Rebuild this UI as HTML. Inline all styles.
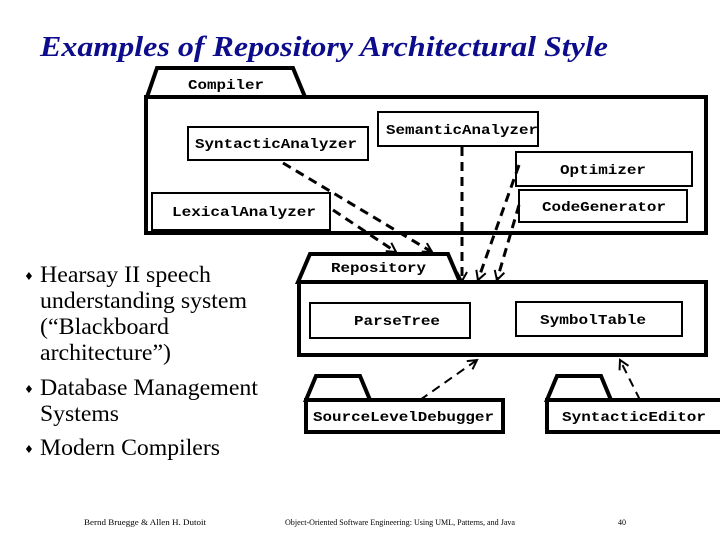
<!DOCTYPE html>
<html><head><meta charset="utf-8"><style>
html,body{margin:0;padding:0;background:#fff;}
svg{display:block;}
.m{font-family:"Liberation Mono",monospace;font-weight:bold;font-size:14px;fill:#000;}
.s{font-family:"Liberation Serif",serif;font-size:23.5px;fill:#000;}
.f{font-family:"Liberation Serif",serif;font-size:8px;fill:#000;}
</style></head><body>
<svg width="720" height="540" viewBox="0 0 720 540" xmlns="http://www.w3.org/2000/svg">
<defs>
<marker id="a" markerWidth="12" markerHeight="12" refX="10" refY="6" orient="auto" markerUnits="userSpaceOnUse">
<path d="M1,1 L10,6 L1,11" fill="none" stroke="#000" stroke-width="2"/>
</marker>
</defs>
<text x="40" y="56" font-family="Liberation Serif,serif" font-style="italic" font-weight="bold" font-size="28" fill="#0c0c8c" textLength="568" lengthAdjust="spacingAndGlyphs">Examples of Repository Architectural Style</text>

<g fill="#fff" stroke="#000" stroke-width="4">
<polygon points="147,97 157,68 293,68 305,97"/>
<rect x="146" y="97" width="560" height="136"/>
<polygon points="298,282 310,254 448,254 460,282"/>
<rect x="299" y="282" width="407" height="73"/>
<polygon points="306,400 316,376 360,376 370,400"/>
<rect x="306" y="400" width="197" height="32"/>
<polygon points="547,400 557,376 601,376 611,400"/>
<rect x="547" y="400" width="180" height="32"/>
</g>
<g fill="#fff" stroke="#000" stroke-width="2">
<rect x="188" y="127" width="180" height="33"/>
<rect x="378" y="112" width="160" height="34"/>
<rect x="516" y="152" width="176" height="34"/>
<rect x="519" y="190" width="168" height="32"/>
<rect x="152" y="193" width="178" height="37"/>
<rect x="310" y="303" width="160" height="35"/>
<rect x="516" y="302" width="166" height="34"/>
</g>
<text class="m" x="188" y="89" textLength="76" lengthAdjust="spacingAndGlyphs">Compiler</text>
<text class="m" x="195" y="148" textLength="162" lengthAdjust="spacingAndGlyphs">SyntacticAnalyzer</text>
<text class="m" x="386" y="134" textLength="152" lengthAdjust="spacingAndGlyphs">SemanticAnalyzer</text>
<text class="m" x="560" y="174" textLength="86" lengthAdjust="spacingAndGlyphs">Optimizer</text>
<text class="m" x="542" y="211" textLength="124" lengthAdjust="spacingAndGlyphs">CodeGenerator</text>
<text class="m" x="172" y="216" textLength="144" lengthAdjust="spacingAndGlyphs">LexicalAnalyzer</text>
<text class="m" x="331" y="272" textLength="95" lengthAdjust="spacingAndGlyphs">Repository</text>
<text class="m" x="354" y="325" textLength="86" lengthAdjust="spacingAndGlyphs">ParseTree</text>
<text class="m" x="540" y="324" textLength="106" lengthAdjust="spacingAndGlyphs">SymbolTable</text>
<text class="m" x="313" y="421" textLength="181" lengthAdjust="spacingAndGlyphs">SourceLevelDebugger</text>
<text class="m" x="562" y="421" textLength="144" lengthAdjust="spacingAndGlyphs">SyntacticEditor</text>

<g stroke="#000" stroke-width="3" stroke-dasharray="9,6" fill="none" marker-end="url(#a)">
<line x1="283" y1="163" x2="432" y2="252"/>
<line x1="333" y1="210" x2="396" y2="252"/>
<line x1="462" y1="147" x2="462" y2="281"/>
<line x1="519" y1="165" x2="478" y2="280"/>
<line x1="519" y1="205" x2="497" y2="280"/>
</g>
<g stroke="#000" stroke-width="2" stroke-dasharray="9,6" fill="none" marker-end="url(#a)">
<line x1="420" y1="400" x2="477" y2="360"/>
<line x1="640" y1="400" x2="620" y2="360"/>
</g>

<g font-family="DejaVu Sans,sans-serif" font-size="11" fill="#000">
<text x="24" y="280">♦</text><text x="24" y="393">♦</text><text x="24" y="453">♦</text>
</g>
<text class="s" x="40" y="282" textLength="171" lengthAdjust="spacingAndGlyphs">Hearsay II speech</text>
<text class="s" x="40" y="308" textLength="207" lengthAdjust="spacingAndGlyphs">understanding system</text>
<text class="s" x="40" y="334" textLength="129" lengthAdjust="spacingAndGlyphs">(“Blackboard</text>
<text class="s" x="40" y="360" textLength="131" lengthAdjust="spacingAndGlyphs">architecture”)</text>
<text class="s" x="40" y="395" textLength="218" lengthAdjust="spacingAndGlyphs">Database Management</text>
<text class="s" x="40" y="421" textLength="79" lengthAdjust="spacingAndGlyphs">Systems</text>
<text class="s" x="40" y="455" textLength="180" lengthAdjust="spacingAndGlyphs">Modern Compilers</text>

<text class="f" x="84" y="525" textLength="122" lengthAdjust="spacingAndGlyphs">Bernd Bruegge &amp; Allen H. Dutoit</text>
<text class="f" x="285" y="525" textLength="230" lengthAdjust="spacingAndGlyphs">Object-Oriented Software Engineering: Using UML, Patterns, and Java</text>
<text class="f" x="618" y="525">40</text>
</svg>
</body></html>
